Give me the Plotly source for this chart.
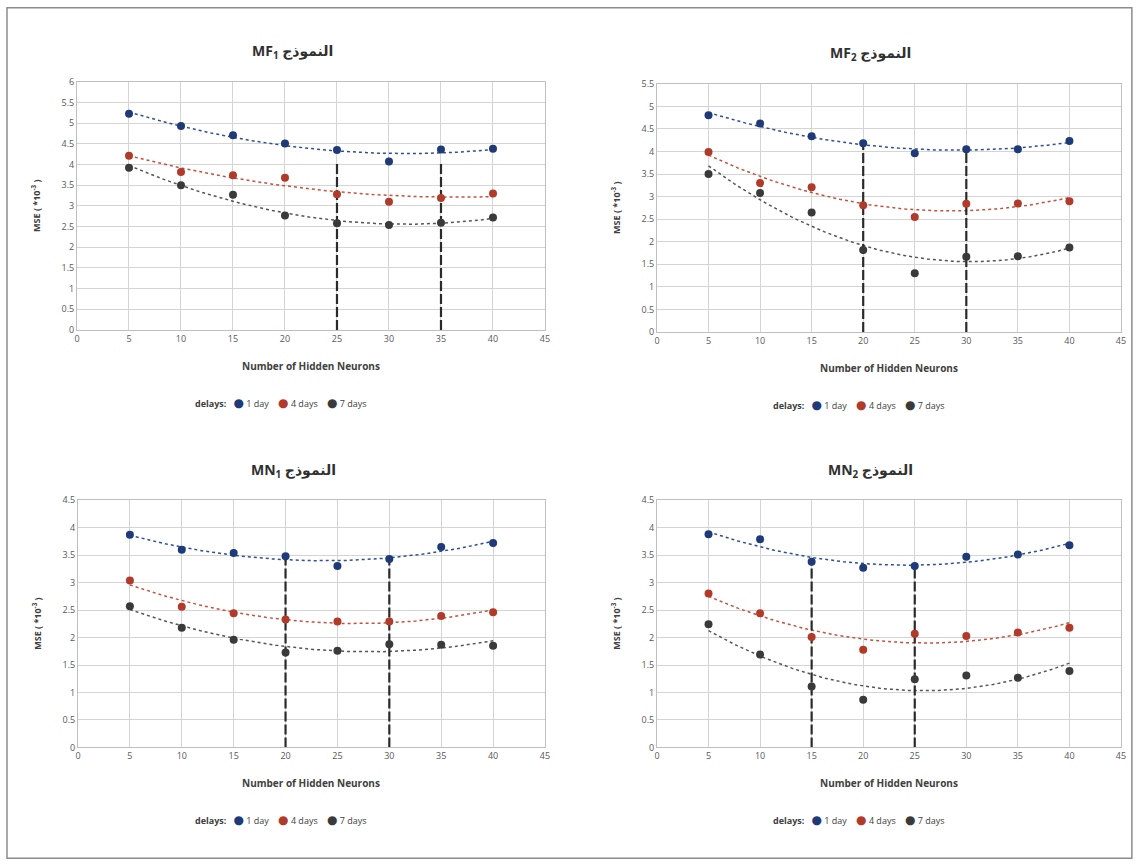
import numpy as np
import plotly.graph_objects as go

W, H = 1138, 865

neurons = [5, 10, 15, 20, 25, 30, 35, 40]
series_names = ["1 day", "4 days", "7 days"]

mf1_1day = [5.23, 4.93, 4.71, 4.51, 4.35, 4.07, 4.36, 4.38]
mf1_4days = [4.21, 3.82, 3.74, 3.68, 3.28, 3.10, 3.19, 3.30]
mf1_7days = [3.92, 3.50, 3.27, 2.77, 2.58, 2.54, 2.59, 2.72]

mf2_1day = [4.80, 4.62, 4.34, 4.18, 3.96, 4.05, 4.05, 4.23]
mf2_4days = [3.99, 3.30, 3.21, 2.81, 2.55, 2.84, 2.85, 2.90]
mf2_7days = [3.50, 3.08, 2.65, 1.82, 1.30, 1.67, 1.68, 1.87]

mn1_1day = [3.87, 3.60, 3.54, 3.48, 3.30, 3.43, 3.65, 3.72]
mn1_4days = [3.04, 2.56, 2.44, 2.33, 2.29, 2.29, 2.39, 2.46]
mn1_7days = [2.57, 2.18, 1.96, 1.73, 1.76, 1.88, 1.87, 1.85]

mn2_1day = [3.88, 3.79, 3.38, 3.27, 3.30, 3.47, 3.51, 3.68]
mn2_4days = [2.80, 2.44, 2.01, 1.78, 2.07, 2.03, 2.09, 2.18]
mn2_7days = [2.24, 1.69, 1.11, 0.87, 1.24, 1.31, 1.27, 1.39]

titles = ["MF<sub>1</sub> النموذج", "MF<sub>2</sub> النموذج",
          "MN<sub>1</sub> النموذج", "MN<sub>2</sub> النموذج"]
y_max = [6, 5.5, 4.5, 4.5]
best_x = [[25, 35], [20, 30], [20, 30], [15, 25]]
best_top = [4.05, 4.12, 3.45, 3.32]

panels = [
    [mf1_1day, mf1_4days, mf1_7days],
    [mf2_1day, mf2_4days, mf2_7days],
    [mn1_1day, mn1_4days, mn1_7days],
    [mn2_1day, mn2_4days, mn2_7days],
]

colors = ["#1F3A78", "#B23A2A", "#3A3A3A"]
trend_colors = ["#2E4F9A", "#C8503C", "#555555"]

# target pixel boxes in the picture: (left, right, top, bottom)
boxes = [(77, 545, 82, 330), (657, 1121, 84, 332),
         (78, 545, 500, 747), (657, 1121, 500, 747)]


def px(p):
    return (p - 3.0) / 0.993 / W


def py(p):
    return 1 - (p - 7.3) / 0.984 / H


FONT = "Open Sans, DejaVu Sans, sans-serif"
fig = go.Figure()
layout = dict(
    width=W, height=H, margin=dict(l=0, r=0, t=0, b=0),
    paper_bgcolor="white", plot_bgcolor="white",
    font=dict(family=FONT, color="#595959", size=9),
    annotations=[], shapes=[], showlegend=False,
)

fine = np.linspace(min(neurons), max(neurons), 100)
for i, (data, box) in enumerate(zip(panels, boxes)):
    l, r, t, b = box
    sfx = "" if i == 0 else str(i + 1)
    xa, ya = "x" + sfx, "y" + sfx
    for k, vals in enumerate(data):
        coef = np.polyfit(neurons, vals, 2)
        fig.add_trace(go.Scatter(
            x=fine, y=np.polyval(coef, fine), mode="lines",
            line=dict(color=trend_colors[k], width=1.5, dash="dot"),
            hoverinfo="skip", xaxis=xa, yaxis=ya))
    for bx in best_x[i]:
        fig.add_trace(go.Scatter(
            x=[bx, bx], y=[0, best_top[i]], mode="lines",
            line=dict(color="#2a2a2a", width=2.2, dash="10px,3px"),
            hoverinfo="skip", xaxis=xa, yaxis=ya))
    for k, vals in enumerate(data):
        fig.add_trace(go.Scatter(
            x=neurons, y=vals, mode="markers", name=series_names[k],
            marker=dict(color=colors[k], size=8),
            xaxis=xa, yaxis=ya))

    axis_common = dict(showgrid=True, gridcolor="#D4D4D4", gridwidth=1,
                       zeroline=False, showline=True, linecolor="#BFBFBF",
                       mirror=True, ticks="", tickfont=dict(size=9, color="#595959"))
    layout["xaxis" + sfx] = dict(domain=[px(l), px(r)], range=[0, 45], dtick=5, tick0=0,
                                 anchor=ya, **axis_common)
    layout["yaxis" + sfx] = dict(domain=[py(b), py(t)], range=[0, y_max[i]], dtick=0.5,
                                 tick0=0, anchor=xa, **axis_common)
    cx = (l + r) / 2
    layout["annotations"].append(dict(
        text="<b>" + titles[i] + "</b>", x=px(cx - 18), y=py(t - 30),
        xref="paper", yref="paper", showarrow=False, xanchor="center", yanchor="middle",
        font=dict(size=14, color="#303030", family=FONT)))
    layout["annotations"].append(dict(
        text="<b>Number of Hidden Neurons</b>", x=px(cx), y=py(b + 36),
        xref="paper", yref="paper", showarrow=False, xanchor="center", yanchor="middle",
        font=dict(size=10, color="#404040", family=FONT)))
    layout["annotations"].append(dict(
        text="<b>MSE ( *10<sup>-3</sup> )</b>", x=px(l - 41), y=py((t + b) / 2),
        xref="paper", yref="paper", showarrow=False, textangle=-90,
        xanchor="center", yanchor="middle",
        font=dict(size=9, color="#404040", family=FONT)))
    legend_txt = "<b>delays:</b>&nbsp;&nbsp;&nbsp;" + "&nbsp;&nbsp;&nbsp;&nbsp;".join(
        "<span style='color:%s;font-size:12px'>●</span> %s" % (c, n)
        for c, n in zip(colors, series_names))
    layout["annotations"].append(dict(
        text=legend_txt, x=px(cx - 30), y=py(b + 72),
        xref="paper", yref="paper", showarrow=False, xanchor="center", yanchor="middle",
        font=dict(size=9, color="#404040", family=FONT)))

layout["shapes"].append(dict(type="rect", xref="paper", yref="paper",
                             x0=px(7), x1=min(px(1136), 0.999), y0=max(py(862), 0.001),
                             y1=min(py(1), 0.999),
                             line=dict(color="#8c8c8c", width=1.5)))
fig.update_layout(**layout)
fig.write_html("out.html", config={"displayModeBar": False},
               post_script="document.body.style.margin='0';document.body.style.overflow='hidden';")
